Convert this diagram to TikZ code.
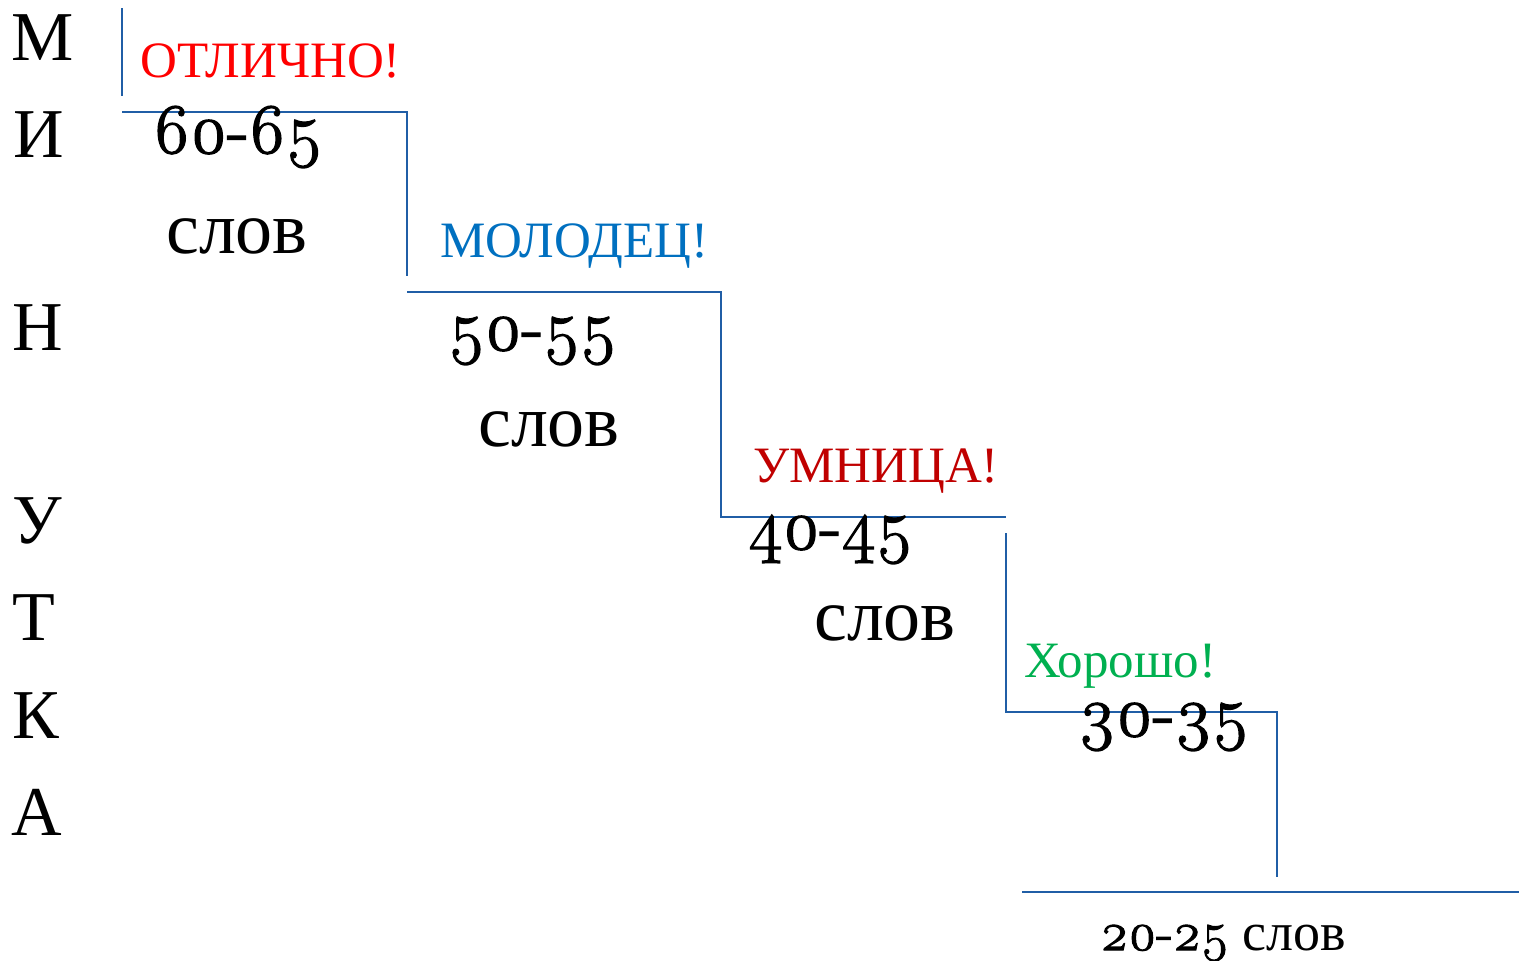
\documentclass[tikz,border=0pt]{standalone}
\usepackage{fontspec}
\setmainfont{Liberation Serif}
\newfontfamily\osf[Numbers=OldStyle,FakeBold=2]{Latin Modern Roman}
\definecolor{stair}{RGB}{32,94,166}
\definecolor{cblue}{RGB}{0,112,192}
\definecolor{cdred}{RGB}{192,0,0}
\definecolor{cgreen}{RGB}{0,176,80}
\definecolor{cred}{RGB}{255,0,0}
\begin{document}
\begin{tikzpicture}[x=1pt,y=-1pt,
  stairline/.style={draw=stair,line width=1.6pt},
  letter/.style={anchor=base west,inner sep=0pt,font=\fontsize{70}{80}\selectfont},
  praise/.style={anchor=base west,inner sep=0pt,font=\fontsize{51}{60}\selectfont},
  num/.style={anchor=base west,inner sep=0pt,font=\fontsize{71}{80}\selectfont\osf},
  word/.style={anchor=base west,inner sep=0pt,font=\fontsize{74}{80}\selectfont}]
\fill[white] (0,0) rectangle (1519,961);
\useasboundingbox (0,0) rectangle (1519,961);
% vertical word
\node[letter] (m1) at (11,60) {М};
\node[letter] (m2) at (13,157) {И};
\node[letter] (m3) at (12,350) {Н};
\node[letter] (m4) at (12,543) {У};
\node[letter] (m5) at (12,640) {Т};
\node[letter] (m6) at (12,738) {К};
\node[letter] (m7) at (11,835) {А};
% stairs
\coordinate (s0) at (122,8);
\coordinate (s1) at (122,96);
\coordinate (a0) at (122,112);
\coordinate (a1) at (407,112);
\coordinate (a2) at (407,276);
\coordinate (b0) at (407,292);
\coordinate (b1) at (721,292);
\coordinate (b2) at (721,517);
\coordinate (b3) at (1006,517);
\coordinate (c0) at (1006,533);
\coordinate (c1) at (1006,712);
\coordinate (c2) at (1277,712);
\coordinate (c3) at (1277,877);
\coordinate (d0) at (1022,892);
\coordinate (d1) at (1519,892);
\draw[stairline] (s0) -- (s1);
\draw[stairline] (a0) -- (a1) -- (a2);
\draw[stairline] (b0) -- (b1) -- (b2) -- (b3);
\draw[stairline] (c0) -- (c1) -- (c2) -- (c3);
\draw[stairline] (d0) -- (d1);
% labels
\node[praise,text=cred] (p1) at (140,77) {ОТЛИЧНО!};
\node[num] (n1) at (153,153) {60-65};
\node[word] (w1) at (166,253) {слов};
\node[praise,text=cblue] (p2) at (440,257) {МОЛОДЕЦ!};
\node[num] (n2) at (448,350) {50-55};
\node[word] (w2) at (478,446) {слов};
\node[praise,text=cdred] (p3) at (753,482) {УМНИЦА!};
\node[num] (n3) at (748,549) {40-45};
\node[word] (w3) at (814,640) {слов};
\node[praise,text=cgreen] (p4) at (1024,677) {Хорошо!};
\node[num] (n4) at (1078,736) {30-35};
\node[anchor=base west,inner sep=0pt,font=\fontsize{54}{60}\selectfont] (n5) at (1100,950) {{\osf 20-25} слов};
\end{tikzpicture}
\end{document}
